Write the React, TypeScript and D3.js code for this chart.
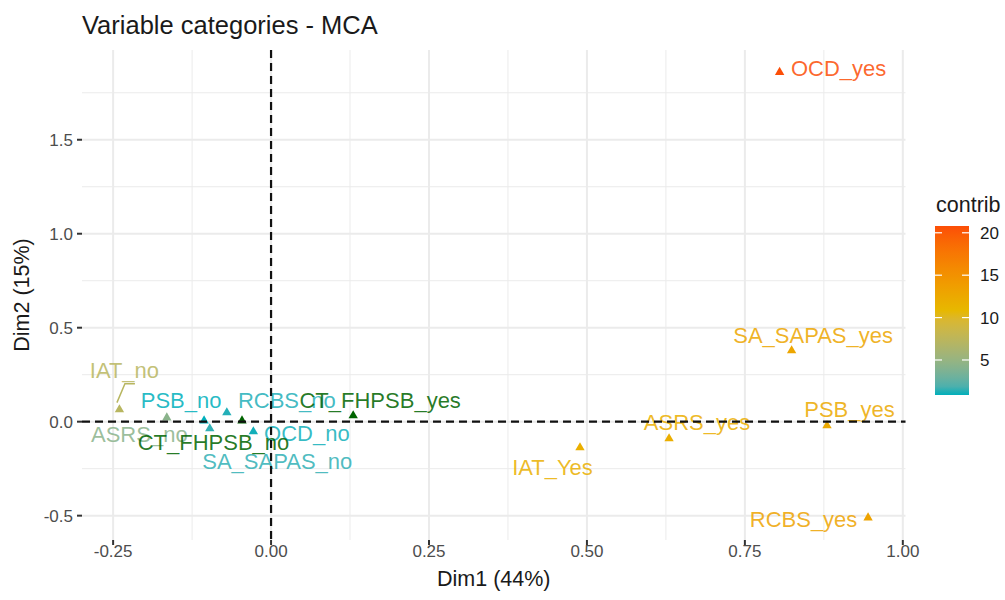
import React from "react";
import * as d3 from "d3";

// ---- data ----
const categories = [
  "IAT_no", "ASRS_no", "PSB_no", "SA_SAPAS_no", "RCBS_no", "OCD_no",
  "IAT_Yes", "ASRS_yes", "SA_SAPAS_yes", "PSB_yes", "RCBS_yes", "OCD_yes",
];
const dim1 = [-0.240, -0.165, -0.106, -0.097, -0.070, -0.028, 0.489, 0.630, 0.824, 0.880, 0.945, 0.805];
const dim2 = [0.064, 0.021, 0.005, -0.037, 0.048, -0.053, -0.138, -0.090, 0.378, -0.021, -0.511, 1.859];
const contrib = [7.2, 4.3, 0.87, 1.3, 1.1, 0.95, 11.8, 12.0, 12.8, 12.5, 13.2, 20.8];

const suppCategories = ["CT_FHPSB_yes", "CT_FHPSB_no"];
const suppDim1 = [0.130, -0.046];
const suppDim2 = [0.032, 0.005];

const xTicks = [-0.25, 0, 0.25, 0.5, 0.75, 1.0];
const yTicks = [-0.5, 0, 0.5, 1.0, 1.5];
const legendTicks = [5, 10, 15, 20];
const gradientColors = ["#00AFBB", "#E7B800", "#FC4E07"];

// ---- layout (label placement mimicking ggrepel) ----
const labelOffsets: Record<string, [number, number]> = {
  IAT_no: [5, -32],
  ASRS_no: [-27.5, 24],
  PSB_no: [-23, -13],
  SA_SAPAS_no: [67.5, 40],
  RCBS_no: [60, -5],
  OCD_no: [53.5, 9],
  IAT_Yes: [-27.5, 27],
  ASRS_yes: [28, -9],
  SA_SAPAS_yes: [21.5, -8],
  PSB_yes: [22.5, -9],
  RCBS_yes: [-64.5, 9],
  OCD_yes: [59, 3.5],
  CT_FHPSB_yes: [27, -8],
  CT_FHPSB_no: [-28.5, 29],
};
const segments: Record<string, [number, number][]> = {
  IAT_no: [[-2.5, -7], [5.5, -26], [15.5, -26]],
};

const W = 1005;
const H = 600;
const panel = { left: 82, right: 905.5, top: 50, bottom: 540 };
const FONT = "'Liberation Sans', Arial, Helvetica, sans-serif";

function expand(vals: number[]): [number, number] {
  const [a, b] = d3.extent(vals) as [number, number];
  const e = (b - a) * 0.05;
  return [a - e, b + e];
}

export default function App() {
  const allX = [...dim1, ...suppDim1];
  const allY = [...dim2, ...suppDim2];
  const x = d3.scaleLinear().domain(expand(allX)).range([panel.left, panel.right]);
  const y = d3.scaleLinear().domain(expand(allY)).range([panel.bottom, panel.top]);

  const cMin = d3.min(contrib)!;
  const cMax = d3.max(contrib)!;
  const color = d3
    .scaleLinear<string>()
    .domain([cMin, (cMin + cMax) / 2, cMax])
    .range(gradientColors)
    .interpolate(d3.interpolateLab);

  const tri = d3.symbol().type(d3.symbolTriangle).size(38)()!;

  const [xd0, xd1] = x.domain();
  const [yd0, yd1] = y.domain();
  const xMinor = xTicks.slice(0, -1).map((t, i) => (t + xTicks[i + 1]) / 2)
    .concat([xTicks[0] - 0.125, xTicks[xTicks.length - 1] + 0.125])
    .filter((v) => v >= xd0 && v <= xd1);
  const yMinor = yTicks.slice(0, -1).map((t, i) => (t + yTicks[i + 1]) / 2)
    .concat([yTicks[0] - 0.25, yTicks[yTicks.length - 1] + 0.25])
    .filter((v) => v >= yd0 && v <= yd1);

  const gridColor = "#EBEBEB";

  // legend
  const leg = { x: 935, w: 34, top: 226, bottom: 395 };
  const ly = d3.scaleLinear().domain([cMin, cMax]).range([leg.bottom, leg.top]);
  const stops = d3.range(0, 21).map((i) => i / 20);

  const fmtX = (v: number) => v.toFixed(2);
  const fmtY = (v: number) => v.toFixed(1);

  const points = categories.map((c, i) => ({
    name: c,
    px: x(dim1[i]),
    py: y(dim2[i]),
    col: color(contrib[i]),
  }));
  const supp = suppCategories.map((c, i) => ({
    name: c,
    px: x(suppDim1[i]),
    py: y(suppDim2[i]),
    col: "#006400",
  }));
  const all = [...points, ...supp];

  return (
    <svg
      width={W}
      height={H}
      style={{ position: "absolute", left: 0, top: 0, background: "#fff" }}
      fontFamily={FONT}
    >
      <defs>
        <linearGradient id="contribGrad" x1="0" y1="1" x2="0" y2="0">
          {stops.map((s) => (
            <stop key={s} offset={s} stopColor={color(cMin + s * (cMax - cMin))} />
          ))}
        </linearGradient>
      </defs>
      <rect width={W} height={H} fill="#fff" />

      {/* title */}
      <text x={82} y={34} fontSize={25.5} fill="#1a1a1a">
        Variable categories - MCA
      </text>

      {/* minor grid */}
      {xMinor.map((v) => (
        <line key={"xm" + v} x1={x(v)} x2={x(v)} y1={panel.top} y2={panel.bottom} stroke={gridColor} strokeWidth={1} />
      ))}
      {yMinor.map((v) => (
        <line key={"ym" + v} x1={panel.left} x2={panel.right} y1={y(v)} y2={y(v)} stroke={gridColor} strokeWidth={1} />
      ))}
      {/* major grid */}
      {xTicks.map((v) => (
        <line key={"xg" + v} x1={x(v)} x2={x(v)} y1={panel.top} y2={panel.bottom} stroke={gridColor} strokeWidth={2} />
      ))}
      {yTicks.map((v) => (
        <line key={"yg" + v} x1={panel.left} x2={panel.right} y1={y(v)} y2={y(v)} stroke={gridColor} strokeWidth={2} />
      ))}

      {/* axis ticks + labels */}
      {xTicks.map((v) => (
        <g key={"xt" + v}>
          <line x1={x(v)} x2={x(v)} y1={panel.bottom} y2={panel.bottom + 5} stroke="#333" strokeWidth={2} />
          <text x={x(v)} y={panel.bottom + 17} fontSize={17} fill="#4D4D4D" textAnchor="middle">
            {fmtX(v)}
          </text>
        </g>
      ))}
      {yTicks.map((v) => (
        <g key={"yt" + v}>
          <line x1={panel.left - 5} x2={panel.left} y1={y(v)} y2={y(v)} stroke="#333" strokeWidth={2} />
          <text x={panel.left - 9} y={y(v) + 6} fontSize={17} fill="#4D4D4D" textAnchor="end">
            {fmtY(v)}
          </text>
        </g>
      ))}

      {/* axis titles */}
      <text x={(panel.left + panel.right) / 2} y={586} fontSize={21.5} textAnchor="middle" fill="#1a1a1a">
        Dim1 (44%)
      </text>
      <text
        transform={`translate(29,${(panel.top + panel.bottom) / 2}) rotate(-90)`}
        fontSize={21.5}
        textAnchor="middle"
        fill="#1a1a1a"
      >
        Dim2 (15%)
      </text>

      {/* points */}
      {all.map((p) => (
        <path key={"p" + p.name} d={tri} transform={`translate(${p.px},${p.py})`} fill={p.col} />
      ))}

      {/* repel segments */}
      {all
        .filter((p) => segments[p.name])
        .map((p) => (
          <polyline
            key={"s" + p.name}
            points={segments[p.name].map(([dx, dy]) => `${p.px + dx},${p.py + dy}`).join(" ")}
            fill="none"
            stroke={p.col}
            strokeWidth={1.5}
          />
        ))}

      {/* labels */}
      {all.map((p) => {
        const [dx, dy] = labelOffsets[p.name] || [0, -10];
        return (
          <text key={"l" + p.name} x={p.px + dx} y={p.py + dy} fontSize={22} fill={p.col} fillOpacity={0.85} textAnchor="middle">
            {p.name}
          </text>
        );
      })}

      {/* dashed zero lines */}
      <line x1={panel.left} x2={panel.right} y1={y(0)} y2={y(0)} stroke="#111" strokeWidth={2.2} strokeDasharray="8,5" />
      <line x1={x(0)} x2={x(0)} y1={panel.top} y2={panel.bottom} stroke="#111" strokeWidth={2.2} strokeDasharray="8,5" />

      {/* legend */}
      <text x={936} y={212} fontSize={21.5} fill="#1a1a1a">
        contrib
      </text>
      <rect x={leg.x} y={leg.top} width={leg.w} height={leg.bottom - leg.top} fill="url(#contribGrad)" />
      {legendTicks.map((t) => (
        <g key={"lt" + t}>
          <line x1={leg.x} x2={leg.x + 7} y1={ly(t)} y2={ly(t)} stroke="#fff" strokeWidth={1.2} />
          <line x1={leg.x + leg.w - 7} x2={leg.x + leg.w} y1={ly(t)} y2={ly(t)} stroke="#fff" strokeWidth={1.2} />
          <text x={980} y={ly(t) + 6} fontSize={17} fill="#1a1a1a">
            {t}
          </text>
        </g>
      ))}
    </svg>
  );
}
